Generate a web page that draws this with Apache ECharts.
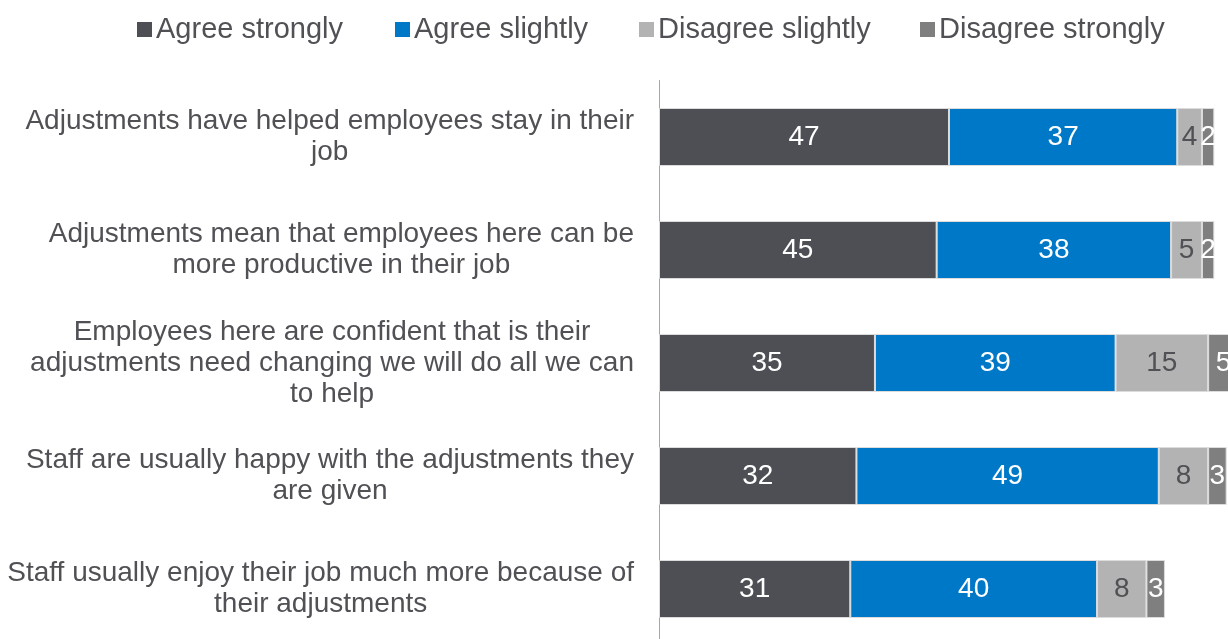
<!DOCTYPE html>
<html>
<head>
<meta charset="utf-8">
<script src="https://cdn.jsdelivr.net/npm/echarts@6/dist/echarts.min.js"></script>
<style>html,body{margin:0;padding:0;background:#fff;overflow:hidden;width:1228px;height:639px}#c{width:1290px;height:660px}</style>
</head>
<body>
<div id="c"></div>
<script>
const categories = [
  "Adjustments have helped employees stay in their\njob",
  "Adjustments mean that employees here can be\nmore productive in their job",
  "Employees here are confident that is their\nadjustments need changing we will do all we can\nto help",
  "Staff are usually happy with the adjustments they\nare given",
  "Staff usually enjoy their job much more because of\ntheir adjustments"
];
const seriesNames = ["Agree strongly", "Agree slightly", "Disagree slightly", "Disagree strongly"];
const agreeStrongly = [47, 45, 35, 32, 31];
const agreeSlightly = [37, 38, 39, 49, 40];
const disagreeSlightly = [4, 5, 15, 8, 8];
const disagreeStrongly = [2, 2, 5, 3, 3];

const colors = ["#4e4f54", "#0078c8", "#b3b3b3", "#7f7f7f"];
const labelColors = ["#ffffff", "#ffffff", "#505055", "#ffffff"];
const values = [agreeStrongly, agreeSlightly, disagreeSlightly, disagreeStrongly];
const legendX = [137, 395, 639, 920];
const FONT = "'Liberation Sans', Arial, sans-serif";
const FS = 28;

const chart = echarts.init(document.getElementById('c'), null, {renderer: 'canvas'});
chart.setOption({
  animation: false,
  color: colors,
  legend: seriesNames.map((n, i) => ({
    data: [n],
    left: legendX[i],
    top: 15,
    padding: 0,
    itemWidth: 15,
    itemHeight: 15,
    itemGap: 6,
    icon: 'rect',
    itemStyle: {borderWidth: 0},
    textStyle: {fontSize: 29, color: '#505055', fontFamily: FONT, padding: [0,0,0,-1]}
  })),
  grid: {left: 659, top: 80.5, width: 617, height: 565, containLabel: false},
  xAxis: {type: 'value', min: 0, max: 100, show: false},
  yAxis: {
    type: 'category',
    data: categories,
    inverse: true,
    axisLine: {show: true, lineStyle: {color: '#a6a6a6', width: 1}},
    axisTick: {show: false},
    axisLabel: {
      align: 'right', margin: 25,
      formatter: v => v.split('\n').map(s => '{c|' + s + '}').join('\n'),
      rich: {c: {align: 'center', fontSize: FS, lineHeight: 31, color: '#505055', fontFamily: FONT}}
    }
  },
  series: seriesNames.map((n, i) => ({
    name: n,
    type: 'bar',
    stack: 'total',
    barWidth: 58,
    data: values[i],
    itemStyle: {color: colors[i], borderColor: '#dcdcdc', borderWidth: 1},
    label: {show: true, position: 'inside', fontSize: FS, color: labelColors[i], fontFamily: FONT}
  }))
});
</script>
</body>
</html>
